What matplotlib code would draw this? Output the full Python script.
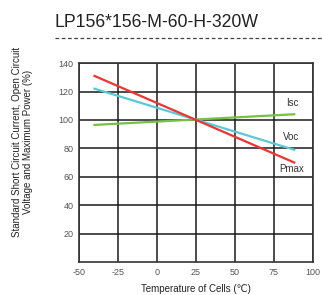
import matplotlib
matplotlib.use("Agg")
import matplotlib.pyplot as plt
from matplotlib.lines import Line2D

plt.rcParams['font.family'] = ['Liberation Sans', 'DejaVu Sans']
plt.rcParams['axes.unicode_minus'] = False

temps = [-40, 88]
pmax = [131, 70]
voc = [122, 79]
isc = [96.5, 104]
xticks = [-50, -25, 0, 25, 50, 75, 100]
yticks = [20, 40, 60, 80, 100, 120, 140]
title = "LP156*156-M-60-H-320W"

fig = plt.figure(figsize=(3.22, 2.95), dpi=100)
ax = fig.add_axes([0.245, 0.112, 0.727, 0.674])
ax.set_xlim(-50, 100)
ax.set_ylim(0, 140)
ax.set_xticks(xticks)
ax.set_yticks(yticks)
ax.grid(True, color='#1a1a1a', linewidth=1.1)
ax.set_axisbelow(True)
for s in ax.spines.values():
    s.set_color('#333333')
    s.set_linewidth(1.2)
ax.tick_params(length=0, labelsize=6.5, colors='#555555', pad=4)

ax.plot(temps, isc, color='#77c043', linewidth=1.6)
ax.plot(temps, voc, color='#5cc8d6', linewidth=1.6)
ax.plot(temps, pmax, color='#ee3333', linewidth=1.6)

ax.text(83, 112, "Isc", fontsize=7, color='#333333', va='center', ha='left')
ax.text(81, 88, "Voc", fontsize=7, color='#333333', va='center', ha='left')
ax.text(78.5, 65.5, "Pmax", fontsize=7, color='#333333', va='center', ha='left')

fig.text(0.61, 0.022, "Temperature of Cells (\u2103)", fontsize=7, color='#222222',
         ha='center', va='center')
fig.text(0.07, 0.52, "Standard Short Circuit Current, Open Circuit\nVoltage and Maximum Power (%)",
         fontsize=7, color='#222222', rotation=90, ha='center', va='center',
         linespacing=1.1, multialignment='center')

fig.text(0.17, 0.925, title, fontsize=12.7, color='#222222', va='center', ha='left')
fig.add_artist(Line2D([0.17, 1.0], [0.87, 0.87], transform=fig.transFigure,
                      color='#444444', linewidth=0.9, linestyle=(0, (3, 2))))

fig.savefig("out.png", dpi=100)
